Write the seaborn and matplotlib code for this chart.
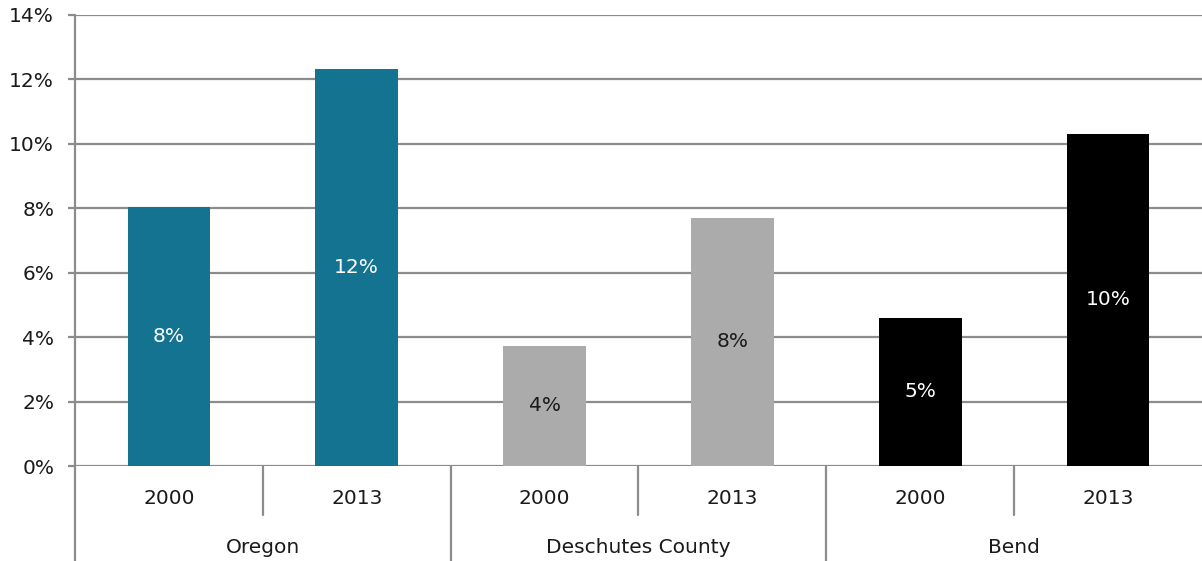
import matplotlib
matplotlib.use("Agg")
import matplotlib.pyplot as plt
import matplotlib.transforms as mtransforms
import seaborn as sns
import pandas as pd

groups = ["Oregon", "Oregon", "Deschutes County", "Deschutes County", "Bend", "Bend"]
years = ["2000", "2013", "2000", "2013", "2000", "2013"]
values = [8.04, 12.33, 3.73, 7.70, 4.60, 10.31]
group_names = ["Oregon", "Deschutes County", "Bend"]
group_colors = ["#137391", "#ababab", "#000000"]
label_colors = ["white", "#1a1a1a", "white"]
y_ticks = [0, 2, 4, 6, 8, 10, 12, 14]

sns.set_theme(style="white")
plt.rcParams["font.family"] = ["DejaVu Sans"]

df = pd.DataFrame({"slot": [f"{g}|{y}" for g, y in zip(groups, years)],
                   "group": groups, "year": years, "value": values})

fig = plt.figure(figsize=(12.02, 5.61), dpi=100)
ax = fig.add_axes([75 / 1202, 95 / 561, 1 - 75 / 1202, 451 / 561])

grid_c = "#8c8c8c"
for t in y_ticks:
    ax.axhline(t, color=grid_c, lw=1.6, zorder=0)

sns.barplot(data=df, x="slot", y="value", hue="group", hue_order=group_names,
            palette=group_colors, dodge=False, width=0.44, saturation=1,
            legend=False, ax=ax, zorder=2, linewidth=0, edgecolor="none")

ax.set_xlim(-0.5, 5.5)
ax.set_ylim(0, 14)
ax.set_yticks(y_ticks)
ax.set_yticklabels([f"{t}%" for t in y_ticks], fontsize=14.5, color="#1a1a1a")
ax.tick_params(axis="y", length=5, width=1.6, color=grid_c, pad=10, left=True)
ax.set_xticks([])
ax.set_xlabel("")
ax.set_ylabel("")
for s in ["top", "right", "bottom", "left"]:
    ax.spines[s].set_visible(False)

# bar value labels
for i, v in enumerate(values):
    gi = group_names.index(groups[i])
    ax.text(i, v / 2, f"{round(v):.0f}%", ha="center", va="center",
            fontsize=14.5, color=label_colors[gi], zorder=3)

trans = mtransforms.blended_transform_factory(ax.transData, ax.transAxes)
# left axis line
ax.plot([-0.5, -0.5], [1.0, -0.215], transform=trans, color=grid_c, lw=1.6,
        clip_on=False, zorder=4)
# group separators
for x in [1.5, 3.5]:
    ax.plot([x, x], [0, -0.215], transform=trans, color=grid_c, lw=1.6, clip_on=False)
# year separators
for x in [0.5, 2.5, 4.5]:
    ax.plot([x, x], [0, -0.109], transform=trans, color=grid_c, lw=1.6, clip_on=False)

# year labels
for i, y in enumerate(years):
    ax.text(i, -0.071, y, transform=trans, ha="center", va="center",
            fontsize=14.5, color="#1a1a1a")
# group labels
for k, g in enumerate(group_names):
    ax.text(2 * k + 0.5, -0.18, g, transform=trans, ha="center", va="center",
            fontsize=14.5, color="#1a1a1a")

fig.savefig("out.png", dpi=100)
